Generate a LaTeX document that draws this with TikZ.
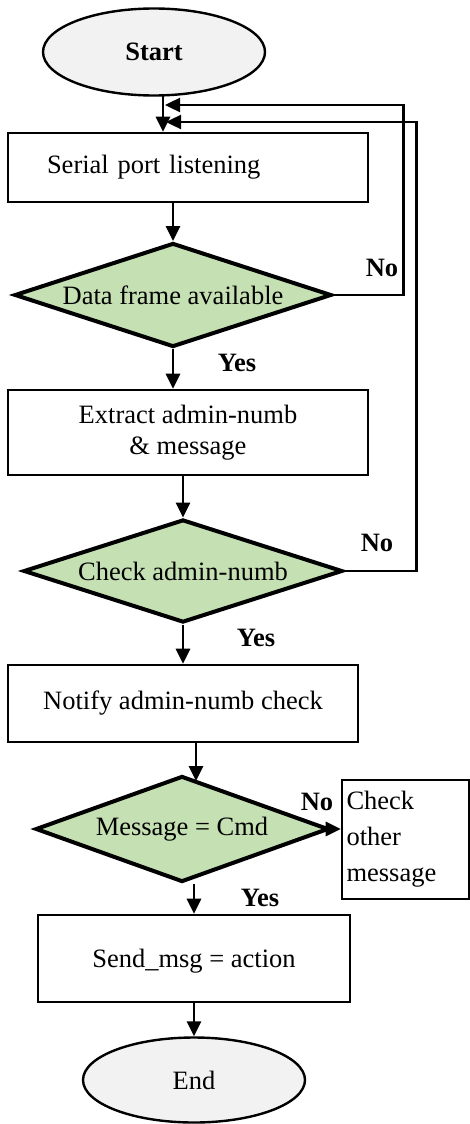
\documentclass[tikz,border=0pt]{standalone}
\usepackage{fontspec}
\setmainfont{Liberation Serif}
\usepackage{tikz}
\usetikzlibrary{shapes.geometric, arrows.meta}
\definecolor{termgray}{HTML}{F2F2F2}
\definecolor{decgreen}{HTML}{C5E0B3}
\newcommand{\flowfont}{\fontsize{26.5}{31}\selectfont}

\begin{document}
\begin{tikzpicture}[
    x=1pt, y=-1pt,
    box/.style={rectangle, draw, line width=2.6pt, font=\flowfont, align=center},
    decision/.style={diamond, draw, line width=4pt, fill=decgreen, font=\flowfont, inner sep=0pt},
    terminal/.style={ellipse, draw, line width=2.4pt, fill=termgray, font=\flowfont, minimum width=222pt},
    answer/.style={font=\flowfont\bfseries, inner sep=0pt},
    arrow/.style={-{Triangle[length=15pt, width=14pt]}, line width=2.8pt}
]
    \useasboundingbox (0,0) rectangle (470,1124);

    % Start / End
    \node[terminal, minimum height=87pt, font=\flowfont\bfseries] (start) at (154,52) {Start};
    \node[terminal, minimum height=85pt] (stop) at (194,1080) {End};

    % Process boxes
    \node[box, minimum width=360pt, minimum height=69pt, text width=282pt, inner xsep=39pt, align=left] (serial) at (188,167.5) {Serial port listening};
    \node[box, minimum width=360pt, minimum height=85pt] (extract) at (188,432.5) {Extract admin-numb\\\& message};
    \node[box, minimum width=350pt, minimum height=77pt] (notify) at (183,703.5) {Notify admin-numb check};
    \node[box, minimum width=312pt, minimum height=87pt, text depth=-12pt] (send) at (194,958.5) {Send\_msg = action};
    \node[box, minimum width=127pt, minimum height=119pt, text width=118pt, inner xsep=4pt, align=left, font=\fontsize{26.5}{36}\selectfont] (other) at (405.5,839.5) {Check\\other\\message};

    % Decisions
    \node[decision, minimum width=317pt, minimum height=104pt, aspect=3.05] (avail) at (173,295) {Data frame available};
    \node[decision, minimum width=319pt, minimum height=103pt, aspect=3.1] (check) at (183,571) {Check admin-numb};
    \node[decision, minimum width=293pt, minimum height=106pt, aspect=2.76] (cmd) at (182,829) {Message = Cmd};

    % Yes / No
    \node[answer] (no1) at (382,268) {No};
    \node[answer] (yes1) at (237,363) {Yes};
    \node[answer] (no2) at (377,543) {No};
    \node[answer] (yes2) at (256,638) {Yes};
    \node[answer] (no3) at (317,802) {No};
    \node[answer] (yes3) at (260,898) {Yes};

    % Junctions
    \coordinate (trunk) at (163,95);
    \coordinate (in1) at (165,105);
    \coordinate (in2) at (166,122);
    \coordinate (n3) at (196,781);

    % Arrows
    \draw[arrow] (trunk) -- (trunk |- serial.north);
    \draw[arrow] (avail.north |- serial.south) -- (avail.north);
    \draw[arrow] (avail.south) -- (avail.south |- extract.north);
    \draw[arrow] (check.north |- extract.south) -- (check.north);
    \draw[arrow] (check.south) -- (check.south |- notify.north);
    \draw[arrow] (n3 |- notify.south) -- (n3);
    \draw[arrow] (cmd.east) -- (other.west |- cmd.east);
    \draw[arrow] (send.north |- cmd.south) -- (send.north);
    \draw[arrow] (send.south) -- (stop.north);

    % Loops back
    \draw[arrow, line width=2.4pt] (avail.east) -- ++(70,0) |- (in1);
    \draw[arrow, line width=2.4pt] (check.east) -- ++(72,0) |- (in2);
\end{tikzpicture}
\end{document}
